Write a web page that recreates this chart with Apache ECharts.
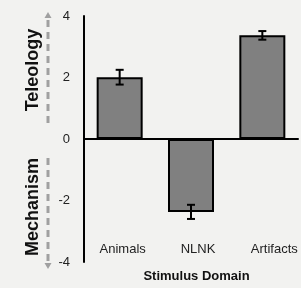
<!DOCTYPE html>
<html>
<head>
<meta charset="utf-8">
<script src="https://cdn.jsdelivr.net/npm/echarts@6/dist/echarts.min.js"></script>
<style>
  html, body { margin: 0; padding: 0; background: #f2f2f0; }
  #main { width: 301px; height: 288px; }
</style>
</head>
<body>
<div id="main"></div>
<script>
// data
var categories = ["Animals", "NLNK", "Artifacts"];
var means = [2.01, -2.37, 3.37];
var errors = [0.24, 0.23, 0.14];
var yTicks = { min: -4, max: 4, step: 2 };

var chart = echarts.init(document.getElementById("main"));
var font = "Liberation Sans";

// little nudges so the bottom labels sit where they do in the figure
var labelShift = [6, 14, 24];
var labelData = categories.map(function (c, i) {
  return { value: c, textStyle: { padding: [0, 0, 0, labelShift[i]] } };
});

var option = {
  backgroundColor: "#f2f2f0",
  animation: false,
  grid: { left: 84, right: 3, top: 16, bottom: 25 },
  xAxis: [
    {
      // line at zero
      type: "category",
      data: categories,
      position: "bottom",
      axisLine: { onZero: true, lineStyle: { color: "#000", width: 2 } },
      axisTick: { show: false },
      axisLabel: { show: false },
    },
    {
      // labels along the bottom
      type: "category",
      data: labelData,
      position: "bottom",
      axisLine: { show: false, onZero: false },
      axisTick: { show: false },
      axisLabel: {
        inside: true,
        margin: 6,
        fontFamily: font,
        fontSize: 13,
        color: "#222",
      },
      name: "Stimulus Domain",
      nameLocation: "middle",
      nameGap: 8,
      nameTextStyle: {
        fontFamily: font,
        fontSize: 13,
        fontWeight: "bold",
        color: "#111",
        verticalAlign: "top",
        padding: [0, 0, 0, 11],
      },
    },
  ],
  yAxis: {
    type: "value",
    min: yTicks.min,
    max: yTicks.max,
    interval: yTicks.step,
    splitLine: { show: false },
    axisTick: { show: false },
    axisLine: { show: true, onZero: false, lineStyle: { color: "#000", width: 2 } },
    axisLabel: { margin: 14, fontFamily: font, fontSize: 13, color: "#222" },
  },
  series: [
    {
      type: "bar",
      data: means,
      barWidth: 46,
      itemStyle: { color: "#808080", borderColor: "#000", borderWidth: 2 },
    },
    {
      type: "custom",
      data: means.map(function (m, i) { return [i, m - errors[i], m + errors[i]]; }),
      z: 5,
      renderItem: function (params, api) {
        var lo = api.coord([api.value(0), api.value(1)]);
        var hi = api.coord([api.value(0), api.value(2)]);
        var w = 4;
        var st = { stroke: "#000", lineWidth: 2 };
        return {
          type: "group",
          children: [
            { type: "line", shape: { x1: hi[0], y1: hi[1], x2: lo[0], y2: lo[1] }, style: st },
            { type: "line", shape: { x1: hi[0] - w, y1: hi[1], x2: hi[0] + w, y2: hi[1] }, style: st },
            { type: "line", shape: { x1: lo[0] - w, y1: lo[1], x2: lo[0] + w, y2: lo[1] }, style: st },
          ],
        };
      },
    },
  ],
  graphic: [
    // side labels
    {
      type: "text", x: 33, y: 70, rotation: Math.PI / 2,
      style: { text: "Teleology", font: "bold 18px " + font, fill: "#111", align: "center", verticalAlign: "middle" },
    },
    {
      type: "text", x: 33, y: 207, rotation: Math.PI / 2,
      style: { text: "Mechanism", font: "bold 18px " + font, fill: "#111", align: "center", verticalAlign: "middle" },
    },
    // dashed arrows
    {
      type: "line", shape: { x1: 48, y1: 123, x2: 48, y2: 19 },
      style: { stroke: "#a0a0a0", lineWidth: 3, lineDash: [7, 5] },
    },
    {
      type: "polygon", shape: { points: [[48, 12], [44.5, 18], [51.5, 18]] },
      style: { fill: "#a0a0a0" },
    },
    {
      type: "line", shape: { x1: 48, y1: 158, x2: 48, y2: 262 },
      style: { stroke: "#a0a0a0", lineWidth: 3, lineDash: [7, 5] },
    },
    {
      type: "polygon", shape: { points: [[48, 269], [44.5, 263], [51.5, 263]] },
      style: { fill: "#a0a0a0" },
    },
  ],
};

chart.setOption(option);
</script>
</body>
</html>
